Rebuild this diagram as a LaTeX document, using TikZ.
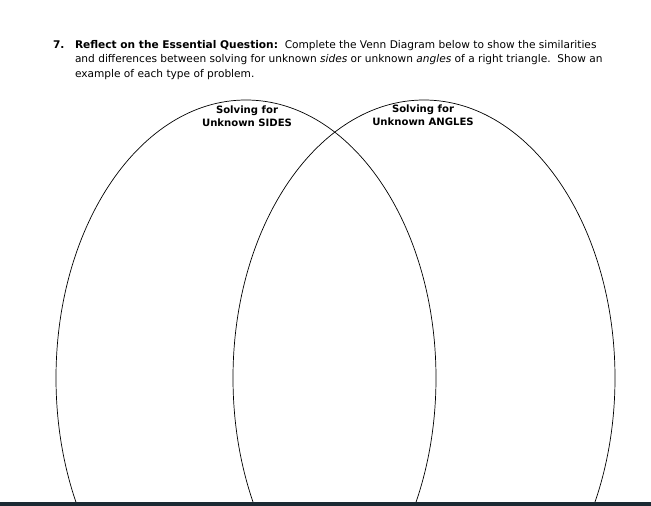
\documentclass[tikz,border=0pt]{standalone}
\usepackage{fontspec}
\setmainfont{DejaVu Sans}
\usepackage{tikz}
\usetikzlibrary{positioning}
\definecolor{barcolor}{RGB}{27,42,51}

\begin{document}
\begin{tikzpicture}[x=1pt,y=-1pt,node distance=0pt,every node/.style={inner sep=0,outer sep=0},
  qtext/.style={anchor=base west,font=\fontsize{10.6}{14.5}\selectfont},
  vlabel/.style={align=center,font=\fontsize{10.1}{13}\selectfont\bfseries}]

\useasboundingbox (0,0) rectangle (651,506);
\fill[white] (0,0) rectangle (651,506);

\node[qtext] (num) at (53,48) {\bfseries 7.};
\node[qtext] (line1) at (75,48) {\textbf{Reflect on the Essential Question:}\ \ Complete the Venn Diagram below to show the similarities};
\node[qtext] (line2) at (75,62.5) {and differences between solving for unknown \textit{sides} or unknown \textit{angles} of a right triangle.\ \ Show an};
\node[qtext] (line3) at (75,77) {example of each type of problem.};

\begin{scope}
\clip (0,0) rectangle (651,502);
\draw[line width=0.7pt] (246,378) ellipse [x radius=190, y radius=278];
\draw[line width=0.7pt] (424,378) ellipse [x radius=191, y radius=278];
\end{scope}

\node[vlabel,anchor=base] (sides) at (247,126) {Solving for\\Unknown SIDES};
\node[vlabel,anchor=base] (angles) at (423,125) {Solving for\\Unknown ANGLES};

\fill[barcolor] (0,501.5) rectangle (651,506);
\end{tikzpicture}
\end{document}
